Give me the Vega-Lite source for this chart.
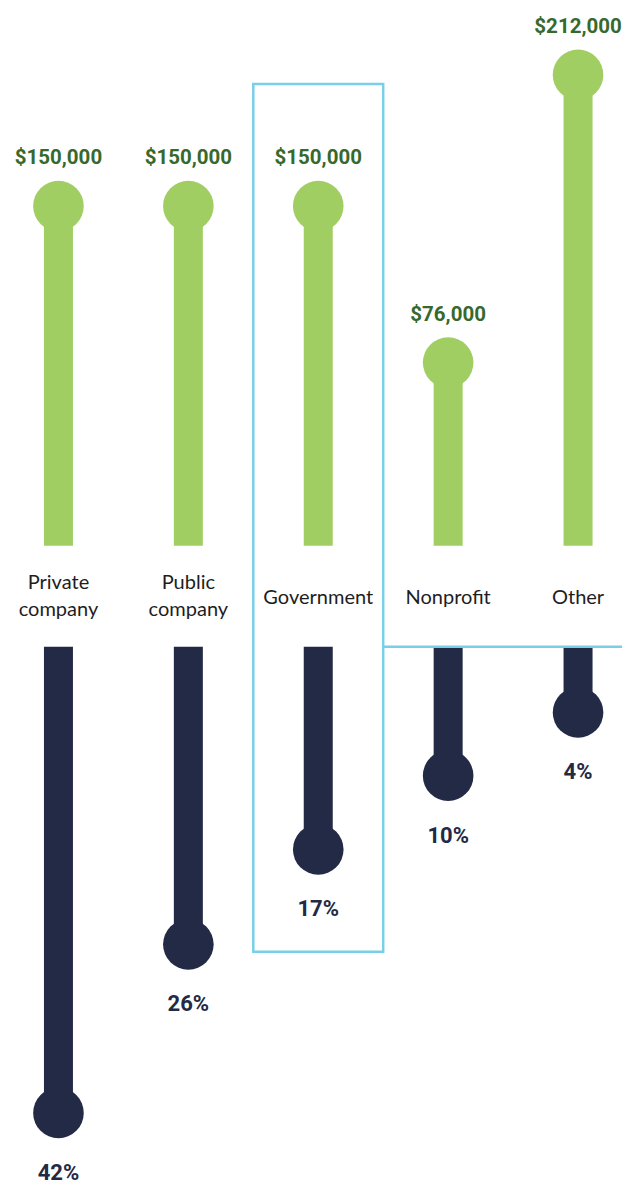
{
  "$schema": "https://vega.github.io/schema/vega-lite/v6.json",
  "width": 622,
  "height": 1187,
  "autosize": {"type": "none"},
  "padding": 0,
  "background": "#ffffff",
  "config": {"view": {"stroke": null}},
  "data": {
    "values": [
      {"sector": "Private company", "label": "Private\ncompany", "lines": 2, "salary": 150000, "share": 0.42},
      {"sector": "Public company", "label": "Public\ncompany", "lines": 2, "salary": 150000, "share": 0.26},
      {"sector": "Government", "label": "Government", "lines": 1, "salary": 150000, "share": 0.17},
      {"sector": "Nonprofit", "label": "Nonprofit", "lines": 1, "salary": 76000, "share": 0.10},
      {"sector": "Other", "label": "Other", "lines": 1, "salary": 212000, "share": 0.04}
    ]
  },
  "encoding": {
    "x": {
      "field": "sector",
      "type": "nominal",
      "axis": null,
      "scale": {
        "domain": ["Private company", "Public company", "Government", "Nonprofit", "Other"],
        "range": [-6.5, 643],
        "paddingInner": 0,
        "paddingOuter": 0
      }
    }
  },
  "layer": [
    {
      "encoding": {
        "y": {
          "field": "salary",
          "type": "quantitative",
          "axis": null,
          "scale": {"domain": [0, 250000], "range": [523.3, -5.45], "nice": false, "zero": false}
        }
      },
      "layer": [
        {
          "mark": {"type": "bar", "width": 29, "color": "#a0ce62"},
          "encoding": {"y2": {"datum": -10600}}
        },
        {
          "mark": {"type": "point", "shape": "circle", "filled": true, "opacity": 1, "size": 2560, "color": "#a0ce62"}
        },
        {
          "mark": {"type": "text", "font": "Roboto", "fontWeight": "bold", "fontSize": 20.5, "color": "#37692c", "baseline": "alphabetic", "dy": -42},
          "encoding": {"text": {"field": "salary", "type": "quantitative", "format": "$,.0f"}}
        }
      ]
    },
    {
      "encoding": {
        "y": {
          "field": "share",
          "type": "quantitative",
          "axis": null,
          "scale": {"domain": [0, 0.5], "range": [670.3, 1197.3], "nice": false, "zero": false}
        }
      },
      "layer": [
        {
          "mark": {"type": "bar", "width": 29, "color": "#232a45"},
          "encoding": {"y2": {"datum": -0.0224}}
        },
        {
          "mark": {"type": "point", "shape": "circle", "filled": true, "opacity": 1, "size": 2560, "color": "#232a45"}
        },
        {
          "mark": {"type": "text", "font": "Roboto", "fontWeight": "bold", "fontSize": 22, "color": "#232a45", "baseline": "alphabetic", "dy": 67},
          "encoding": {"text": {"field": "share", "type": "quantitative", "format": ".0%"}}
        },
        {
          "transform": [{"filter": "datum.lines === 2"}],
          "mark": {"type": "text", "font": "Lato", "fontSize": 20, "lineHeight": 27, "lineBreak": "\n", "baseline": "middle", "color": "#1e1e1e"},
          "encoding": {
            "y": {"datum": -0.0824},
            "text": {"field": "label", "type": "nominal"}
          }
        },
        {
          "transform": [{"filter": "datum.lines === 1"}],
          "mark": {"type": "text", "font": "Lato", "fontSize": 20, "baseline": "middle", "color": "#1e1e1e"},
          "encoding": {
            "y": {"datum": -0.0686},
            "text": {"field": "label", "type": "nominal"}
          }
        },
        {
          "transform": [{"filter": "datum.sector === 'Government'"}],
          "mark": {"type": "rect", "filled": false, "stroke": "#79cfe7", "strokeWidth": 2.5},
          "encoding": {
            "y": {"datum": -0.5563},
            "y2": {"datum": 0.267}
          }
        },
        {
          "transform": [{"filter": "datum.sector === 'Nonprofit'"}],
          "mark": {"type": "rule", "stroke": "#79cfe7", "strokeWidth": 2.5},
          "encoding": {
            "x": {"field": "sector", "type": "nominal", "bandPosition": 0},
            "x2": {"datum": "Other", "bandPosition": 1},
            "y": {"datum": -0.0224}
          }
        }
      ]
    }
  ],
  "resolve": {"scale": {"y": "independent"}}
}
